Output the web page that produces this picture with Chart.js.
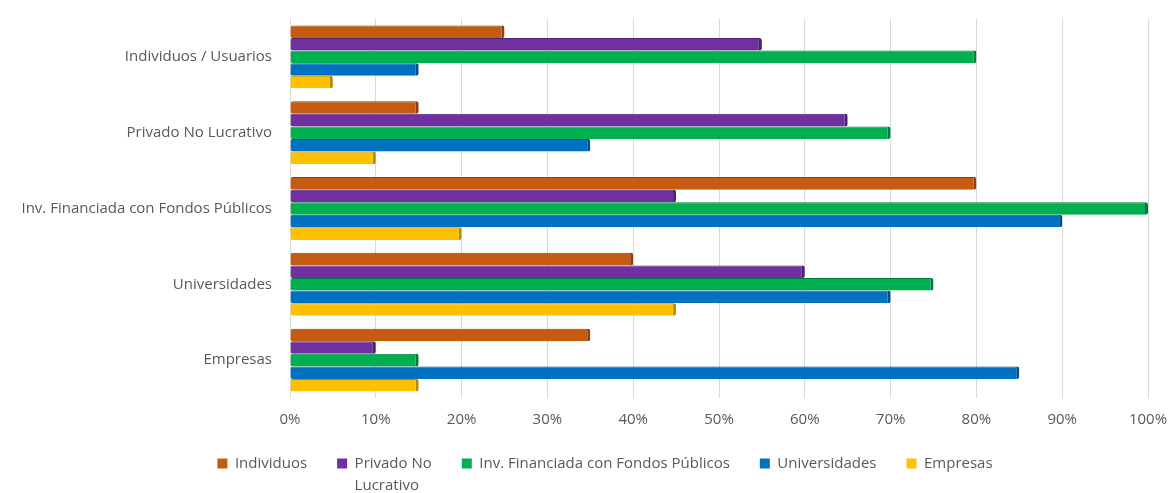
<!DOCTYPE html>
<html>
<head>
<meta charset="utf-8">
<script src="https://cdn.jsdelivr.net/npm/chart.js@4.4.1/dist/chart.umd.min.js"></script>
<style>
  html, body { margin: 0; padding: 0; background: #fff; }
  #wrap { width: 1169px; height: 493px; position: relative; }
</style>
</head>
<body>
<div id="wrap"><canvas id="chart"></canvas></div>
<script>
'use strict';

// categorías (de arriba a abajo)
const categories = [
  'Individuos / Usuarios',
  'Privado No Lucrativo',
  'Inv. Financiada con Fondos Públicos',
  'Universidades',
  'Empresas'
];

const seriesNames = ['Individuos', 'Privado No Lucrativo', 'Inv. Financiada con Fondos Públicos', 'Universidades', 'Empresas'];

const individuos    = [25, 15, 80, 40, 35];
const privadoNoLuc  = [55, 65, 45, 60, 10];
const invFinanciada = [80, 70, 100, 75, 15];
const universidades = [15, 35, 90, 70, 85];
const empresas      = [5, 10, 20, 45, 15];

const xTicks = [0, 10, 20, 30, 40, 50, 60, 70, 80, 90, 100];

const colors = ['#C55A11', '#7030A0', '#00B050', '#0070C0', '#FFC000'];
const edges  = ['#8E3F0B', '#4E2070', '#007A38', '#004E86', '#B88A00'];

const values = [individuos, privadoNoLuc, invFinanciada, universidades, empresas];

const FONT = "'Open Sans', 'Liberation Sans', sans-serif";
const GREY = '#595959';

// leyenda: desplazada un poco a la derecha y con "Lucrativo" en segunda línea
const legendTweaks = {
  id: 'legendTweaks',
  afterLayout(chart) {
    const lg = chart.legend;
    if (!lg) return;
    lg.left += 22;
    lg.right += 22;
  },
  afterDraw(chart) {
    const lg = chart.legend;
    if (!lg || !lg.legendHitBoxes || !lg.legendHitBoxes[1]) return;
    const hb = lg.legendHitBoxes[1];
    const c = chart.ctx;
    c.save();
    c.font = '15px ' + FONT;
    c.fillStyle = GREY;
    c.textBaseline = 'middle';
    c.fillText('Lucrativo', hb.left + 10 + 7.5, hb.top + hb.height / 2 + 22);
    c.restore();
  }
};

const ctx = document.getElementById('chart').getContext('2d');
new Chart(ctx, {
  type: 'bar',
  data: {
    labels: categories,
    datasets: values.map((v, i) => ({
      label: seriesNames[i],
      data: v,
      backgroundColor: colors[i],
      borderColor: edges[i],
      borderWidth: { top: 1, right: 3, bottom: 0, left: 0 },
      borderSkipped: false,
      borderRadius: 2,
      categoryPercentage: 0.83,
      barPercentage: 1.0
    }))
  },
  plugins: [legendTweaks],
  options: {
    indexAxis: 'y',
    responsive: true,
    maintainAspectRatio: false,
    animation: false,
    layout: { padding: { top: 9, right: 9, left: 6, bottom: 12 } },
    scales: {
      x: {
        min: 0, max: 100,
        afterBuildTicks: s => { s.ticks = xTicks.map(v => ({ value: v })); },
        afterFit: s => { s.height = 28; s.paddingRight = 21; },
        ticks: {
          callback: v => v + '%',
          color: GREY,
          font: { family: FONT, size: 15 },
          padding: 13
        },
        grid: { color: '#D9D9D9', lineWidth: 1, drawTicks: false },
        border: { display: false }
      },
      y: {
        afterFit: s => { s.width = 284; },
        ticks: {
          color: GREY,
          font: { family: FONT, size: 15 },
          padding: 10
        },
        grid: { display: false },
        border: { display: false }
      }
    },
    plugins: {
      legend: {
        position: 'bottom',
        labels: {
          color: GREY,
          font: { family: FONT, size: 15 },
          boxWidth: 10,
          boxHeight: 10,
          padding: 30,
          generateLabels: chart => chart.data.datasets.map((ds, i) => ({
            text: ds.label === 'Privado No Lucrativo' ? 'Privado No' : ds.label,
            fillStyle: colors[i],
            strokeStyle: colors[i],
            lineWidth: 0,
            fontColor: GREY,
            datasetIndex: i,
            hidden: false
          }))
        }
      },
      tooltip: { enabled: false }
    }
  }
});
</script>
</body>
</html>
